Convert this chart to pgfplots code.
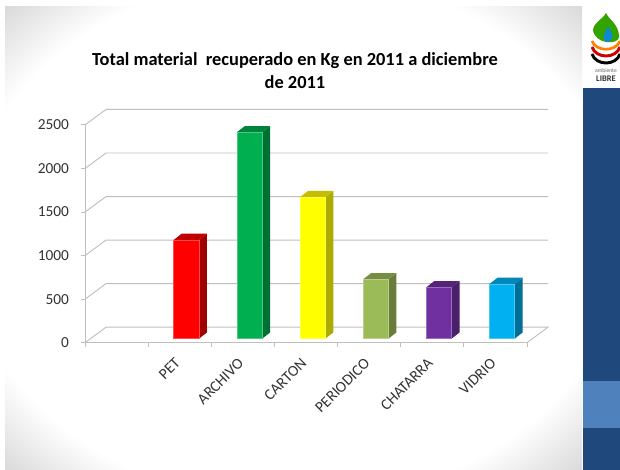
\documentclass[border=0pt]{standalone}
\usepackage{pgfplots}
\pgfplotsset{compat=1.18}
\usepackage{fontspec}
\setmainfont{Carlito}
\definecolor{navy}{HTML}{1F497D}
\definecolor{band}{HTML}{4F81BD}
\definecolor{gridc}{HTML}{BFBFBF}
\definecolor{labc}{HTML}{333333}
\definecolor{redF}{HTML}{FF0000}\definecolor{redS}{HTML}{A00000}\definecolor{redT}{HTML}{C00000}
\definecolor{grnF}{HTML}{00B050}\definecolor{grnS}{HTML}{006F32}\definecolor{grnT}{HTML}{00843C}
\definecolor{yelF}{HTML}{FFFF00}\definecolor{yelS}{HTML}{ABAB00}\definecolor{yelT}{HTML}{C4BD00}
\definecolor{oliF}{HTML}{9BBB59}\definecolor{oliS}{HTML}{687D3B}\definecolor{oliT}{HTML}{768E44}
\definecolor{purF}{HTML}{7030A0}\definecolor{purS}{HTML}{4B206B}\definecolor{purT}{HTML}{55247A}
\definecolor{bluF}{HTML}{00B0F0}\definecolor{bluS}{HTML}{006F98}\definecolor{bluT}{HTML}{0088BA}
\pgfdeclareradialshading{vign}{\pgfpoint{0bp}{0bp}}{color(0bp)=(white);color(28.5bp)=(white);color(35.5bp)=(black!15)}
\begin{document}
\begin{tikzpicture}[x=0.75pt,y=0.75pt]
\useasboundingbox (0,0) rectangle (620,470);
\begin{scope}[y=-0.75pt,yshift=352.5pt]
% slide background
\fill[white] (0,0) rectangle (620,470);
\shade[shading=vign] (5,7) rectangle (582,470);
\fill[navy] (582.5,88) rectangle (620,470);
\fill[band] (582.5,381.5) rectangle (620,428);
% logo
\fill[green!55!black!80!yellow] (593,30) .. controls (594,22) and (602,20) .. (606,13) .. controls (609,20) and (619,24) .. (619,37) .. controls (619,45) and (595,45) .. (593,30) -- cycle;
\fill[cyan!70!blue] (608,26) .. controls (611,32) and (614,35) .. (612,39) .. controls (610,43) and (605,43) .. (604,39) .. controls (603,35) and (606,31) .. (608,26) -- cycle;
\draw[orange,line width=2pt] (592,41) .. controls (596,52) and (616,52) .. (620,41);
\draw[red!80!black,line width=2.2pt] (592,47) .. controls (596,59) and (616,59) .. (620,47);
\draw[black,line width=2.2pt] (592,54) .. controls (596,66) and (616,66) .. (620,54);
\node[inner sep=0pt,font=\fontsize{4.2}{5}\selectfont,text=black!60] at (606,71) {ambiente};
\node[inner sep=0pt,font=\bfseries\fontsize{6.4}{7}\selectfont,text=black!80] at (606,78.5) {LIBRE};
% title
\node[inner sep=0pt,font=\bfseries\fontsize{13.8}{17.2}\selectfont,align=center,text=black] at (295,70.5)
  {Total material\ \ recuperado en Kg en 2011 a diciembre\\de 2011};
\end{scope}
% frame, walls, grid
\begin{axis}[
  at={(63.75pt,95.475pt)},anchor=south west,scale only axis,
  width=331.5pt,height=163.3pt,
  xmin=0,xmax=7,ymin=0,ymax=2500,
  clip=false,
  axis x line*=bottom,axis y line*=left,
  axis line style={gridc,line width=0.7pt,-},
  xtick={0,1,2,3,4,5,6,7},xticklabels={},
  ytick={0,500,1000,1500,2000,2500},
  tick style={gridc,line width=0.7pt},
  tick align=outside,major tick length=3pt,
  extra x ticks={1.5,2.5,3.5,4.5,5.5,6.5},
  extra x tick labels={PET,ARCHIVO,CARTON,PERIODICO,CHATARRA,VIDRIO},
  extra x tick style={major tick length=0pt,
    tick label style={rotate=45,anchor=north east,font=\fontsize{11.6}{13}\selectfont,text=labc,inner sep=0pt,xshift=-10.5pt,yshift=-4.5pt}},
  yticklabel style={font=\fontsize{11.5}{13}\selectfont,text=labc,inner sep=0pt,xshift=-8.8pt},
  /pgf/number format/assume math mode=true,
  /pgf/number format/1000 sep={},
  scaled y ticks=false,
]
\addplot[gridc,line width=0.7pt] coordinates {(0,0)(0.333,178)(7.333,178)(7,0)};
\addplot[gridc,line width=0.7pt] coordinates {(0,500)(0.333,678)(7.333,678)};
\addplot[gridc,line width=0.7pt] coordinates {(0,1000)(0.333,1178)(7.333,1178)};
\addplot[gridc,line width=0.7pt] coordinates {(0,1500)(0.333,1678)(7.333,1678)};
\addplot[gridc,line width=0.7pt] coordinates {(0,2000)(0.333,2178)(7.333,2178)};
\addplot[gridc,line width=0.7pt] coordinates {(0,2500)(0.333,2678)(7.333,2678)};
\end{axis}
% bars
\begin{axis}[
  at={(63.75pt,98.475pt)},anchor=south west,scale only axis,
  width=331.5pt,height=163.3pt,
  xmin=0,xmax=7,ymin=0,ymax=2500,
  clip=false,axis lines=none,
]
% side and top faces
\addplot[fill=redS,draw=none] coordinates {(1.805,0)(1.932,72)(1.932,1206)(1.805,1134)} --cycle;
\addplot[fill=redT,draw=none] coordinates {(1.405,1134)(1.805,1134)(1.932,1206)(1.532,1206)} --cycle;
\addplot[fill=grnS,draw=none] coordinates {(2.805,0)(2.932,72)(2.932,2442)(2.805,2370)} --cycle;
\addplot[fill=grnT,draw=none] coordinates {(2.405,2370)(2.805,2370)(2.932,2442)(2.532,2442)} --cycle;
\addplot[fill=yelS,draw=none] coordinates {(3.805,0)(3.932,72)(3.932,1696)(3.805,1624)} --cycle;
\addplot[fill=yelT,draw=none] coordinates {(3.405,1624)(3.805,1624)(3.932,1696)(3.532,1696)} --cycle;
\addplot[fill=oliS,draw=none] coordinates {(4.805,0)(4.932,72)(4.932,754)(4.805,682)} --cycle;
\addplot[fill=oliT,draw=none] coordinates {(4.405,682)(4.805,682)(4.932,754)(4.532,754)} --cycle;
\addplot[fill=purS,draw=none] coordinates {(5.805,0)(5.932,72)(5.932,662)(5.805,590)} --cycle;
\addplot[fill=purT,draw=none] coordinates {(5.405,590)(5.805,590)(5.932,662)(5.532,662)} --cycle;
\addplot[fill=bluS,draw=none] coordinates {(6.805,0)(6.932,72)(6.932,700)(6.805,628)} --cycle;
\addplot[fill=bluT,draw=none] coordinates {(6.405,628)(6.805,628)(6.932,700)(6.532,700)} --cycle;
% front faces: the values
\addplot[ybar,bar width=19pt,bar shift=0pt,fill=redF,draw=redF!70!white,line width=0.4pt] coordinates {(1.605,1134)};
\addplot[ybar,bar width=19pt,bar shift=0pt,fill=grnF,draw=grnF!70!white,line width=0.4pt] coordinates {(2.605,2370)};
\addplot[ybar,bar width=19pt,bar shift=0pt,fill=yelF,draw=yelF!70!white,line width=0.4pt] coordinates {(3.605,1624)};
\addplot[ybar,bar width=19pt,bar shift=0pt,fill=oliF,draw=oliF!70!white,line width=0.4pt] coordinates {(4.605,682)};
\addplot[ybar,bar width=19pt,bar shift=0pt,fill=purF,draw=purF!70!white,line width=0.4pt] coordinates {(5.605,590)};
\addplot[ybar,bar width=19pt,bar shift=0pt,fill=bluF,draw=bluF!70!white,line width=0.4pt] coordinates {(6.605,628)};
\end{axis}
\end{tikzpicture}
\end{document}
